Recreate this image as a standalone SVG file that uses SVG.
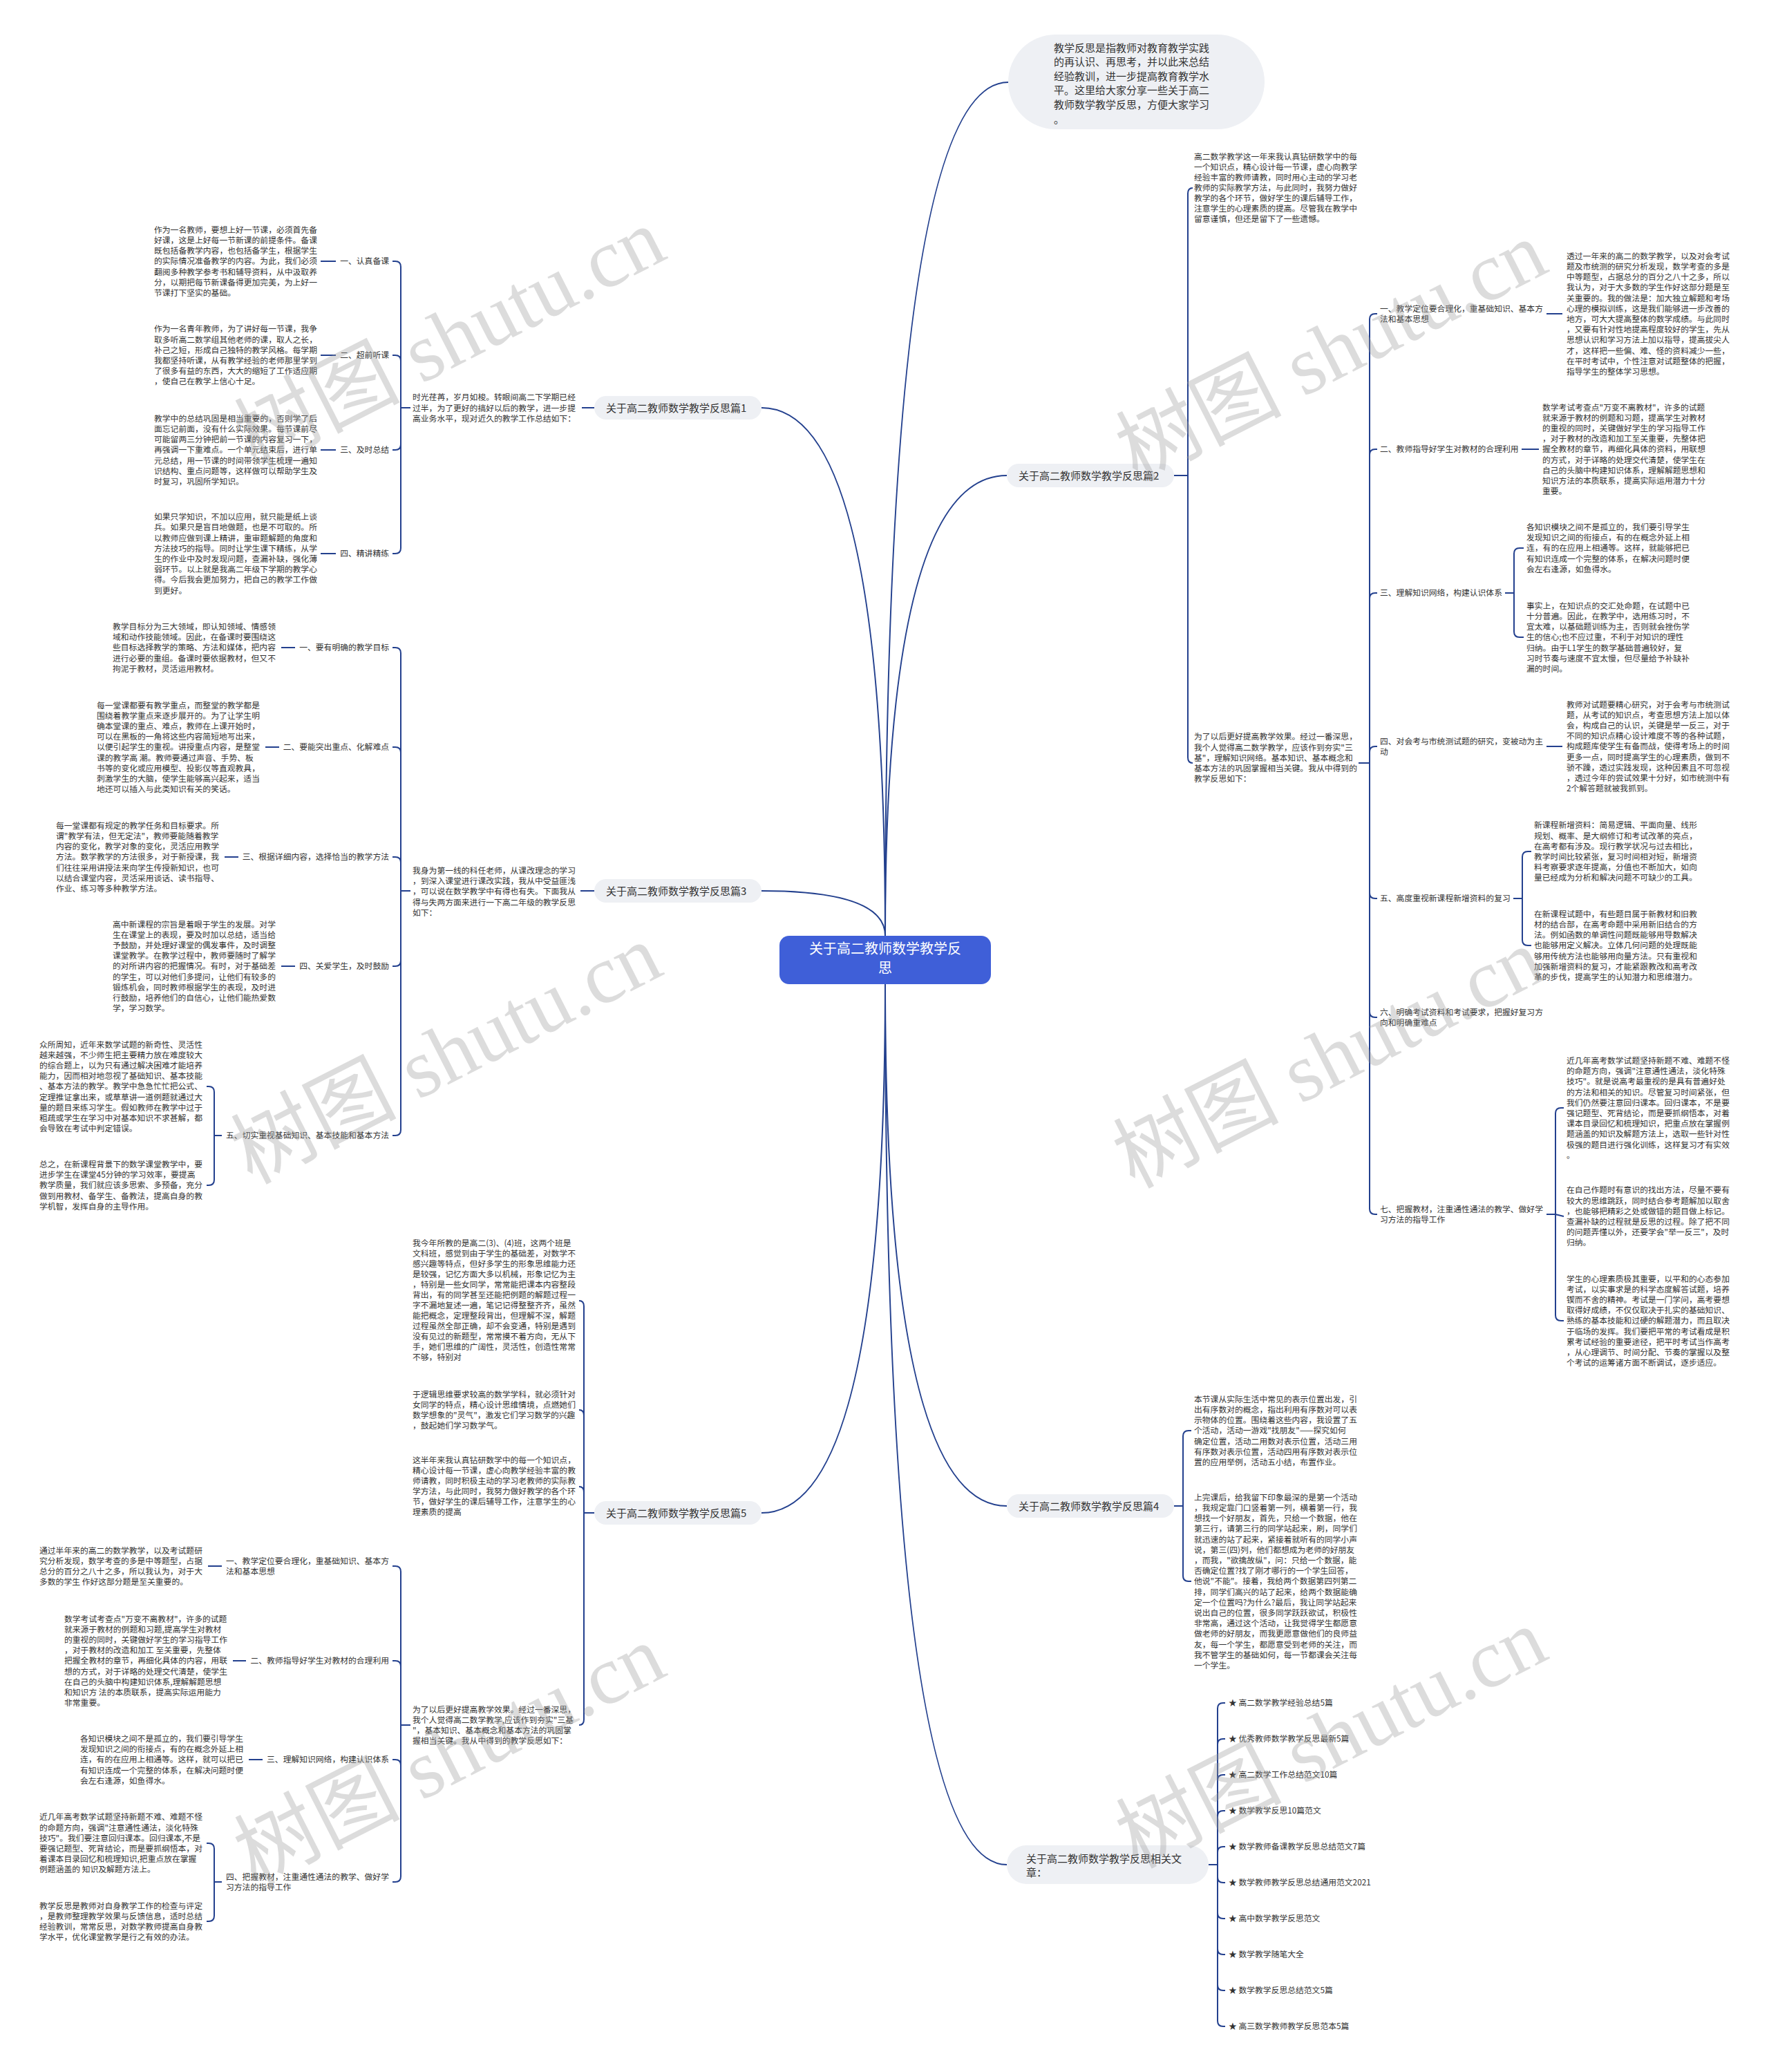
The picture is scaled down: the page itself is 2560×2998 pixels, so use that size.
<svg xmlns="http://www.w3.org/2000/svg" width="2560" height="2998" viewBox="0 0 2560 2998">
<style>
.t{font-family:"Noto Sans CJK SC","Noto Sans",sans-serif;font-size:11.8px;fill:#333}
.pl{fill:#eef0f4}
.pt{font-family:"Noto Sans CJK SC","Noto Sans",sans-serif;font-size:15px;fill:#333}
.c{fill:none;stroke:#23408e;stroke-width:2}
.wm{font-family:"Liberation Serif","Noto Sans CJK SC",serif;font-size:120px;fill:#9a9a9a;fill-opacity:0.35}
</style>
<rect width="2560" height="2998" fill="#fff"/>
<g id="connectors">
<path class="c" d="M1281,1354 Q1281,119 1459,119"/>
<path class="c" d="M1281,1354 Q1281,688 1457,688"/>
<path class="c" d="M1281,1354 Q1281,590 1102,590"/>
<path class="c" d="M1281,1354 Q1281,1289 1102,1289"/>
<path class="c" d="M1281,1424 Q1281,2189 1102,2189"/>
<path class="c" d="M1281,1424 Q1281,2179 1457,2179"/>
<path class="c" d="M1281,1424 Q1281,2698 1457,2698"/>
<path class="c" d="M860,590 H842"/>
<path class="c" d="M594,590 H580 V386 Q580,378 572,378 H568 M594,590 H580 V522 Q580,514 572,514 H568 M594,590 H580 V643 Q580,651 572,651 H568 M594,590 H580 V793 Q580,801 572,801 H568"/>
<path class="c" d="M464,378 H486 M464,514 H486 M464,651 H486 M464,801 H486"/>
<path class="c" d="M860,1289 H840"/>
<path class="c" d="M594,1289 H580 V945 Q580,937 572,937 H568 M594,1289 H580 V1089 Q580,1081 572,1081 H568 M594,1289 H580 V1248 Q580,1240 572,1240 H568 M594,1289 H580 V1390 Q580,1398 572,1398 H568 M594,1289 H580 V1635 Q580,1643 572,1643 H568"/>
<path class="c" d="M407,937 H427 M384,1081 H404 M325,1240 H345 M407,1398 H427"/>
<path class="c" d="M321,1643 H310 V1580 Q310,1572 302,1572 H299 M321,1643 H310 V1707 Q310,1715 302,1715 H299"/>
<path class="c" d="M860,2189 H845 V1890 Q845,1882 838,1882 M860,2189 H845 V2048 Q845,2040 838,2040 M860,2189 H845 V2159 Q845,2151 838,2151 M860,2189 H845 V2488 Q845,2496 838,2496"/>
<path class="c" d="M594,2496 H580 V2274 Q580,2266 572,2266 H568 M594,2496 H580 V2411 Q580,2403 572,2403 H568 M594,2496 H580 V2554 Q580,2546 572,2546 H568 M594,2496 H580 V2715 Q580,2723 572,2723 H568"/>
<path class="c" d="M301,2266 H321 M337,2403 H356 M360,2546 H380"/>
<path class="c" d="M321,2723 H310 V2675 Q310,2667 302,2667 H299 M321,2723 H310 V2772 Q310,2780 302,2780 H299"/>
<path class="c" d="M1699,688 H1719 V280 Q1719,272 1726,272 M1699,688 H1719 V1096 Q1719,1104 1726,1104"/>
<path class="c" d="M1966,1104 H1982 V462 Q1982,454 1990,454 H1993 M1966,1104 H1982 V658 Q1982,650 1990,650 H1993 M1966,1104 H1982 V866 Q1982,858 1990,858 H1993 M1966,1104 H1982 V1088 Q1982,1080 1990,1080 H1993 M1966,1104 H1982 V1292 Q1982,1300 1990,1300 H1993 M1966,1104 H1982 V1464 Q1982,1472 1990,1472 H1993 M1966,1104 H1982 V1749 Q1982,1757 1990,1757 H1993"/>
<path class="c" d="M2238,454 H2261 M2202,650 H2227 M2238,1080 H2261"/>
<path class="c" d="M2178,858 H2191 V801 Q2191,793 2199,793 H2205 M2178,858 H2191 V914 Q2191,922 2199,922 H2205"/>
<path class="c" d="M2190,1300 H2203 V1240 Q2203,1232 2211,1232 H2216 M2190,1300 H2203 V1360 Q2203,1368 2211,1368 H2216"/>
<path class="c" d="M2238,1757 H2251 V1611 Q2251,1603 2259,1603 H2263 M2238,1757 H2251 L2263,1760 M2238,1757 H2251 V1903 Q2251,1911 2259,1911 H2263"/>
<path class="c" d="M1699,2179 H1712 V2078 Q1712,2070 1720,2070 H1724 M1699,2179 H1712 V2280 Q1712,2288 1720,2288 H1724"/>
<path class="c" d="M1749,2698 H1762 V2472 Q1762,2464 1770,2464 H1773 M1749,2698 H1762 V2524 Q1762,2516 1770,2516 H1773 M1749,2698 H1762 V2576 Q1762,2568 1770,2568 H1773 M1749,2698 H1762 V2628 Q1762,2620 1770,2620 H1773 M1749,2698 H1762 V2680 Q1762,2672 1770,2672 H1773 M1749,2698 H1762 V2716 Q1762,2724 1770,2724 H1773 M1749,2698 H1762 V2768 Q1762,2776 1770,2776 H1773 M1749,2698 H1762 V2820 Q1762,2828 1770,2828 H1773 M1749,2698 H1762 V2872 Q1762,2880 1770,2880 H1773 M1749,2698 H1762 V2924 Q1762,2932 1770,2932 H1773"/>
</g>
<g id="center">
<rect x="1128" y="1354" width="306" height="70" rx="14" fill="#3f5fd8"/>
<text x="1281" y="1380" text-anchor="middle" font-family="Noto Sans CJK SC, sans-serif" font-size="20" fill="#fff">关于高二教师数学教学反<tspan x="1281" dy="28">思</tspan></text>
</g>
<g id="intro">
<rect x="1459" y="50" width="371" height="137" rx="68.5" class="pl"/>
<text class="pt" x="1525" y="74.5"><tspan x="1525">教学反思是指教师对教育教学实践</tspan><tspan x="1525" dy="20.6">的再认识、再思考，并以此来总结</tspan><tspan x="1525" dy="20.6">经验教训，进一步提高教育教学水</tspan><tspan x="1525" dy="20.6">平。这里给大家分享一些关于高二</tspan><tspan x="1525" dy="20.6">教师数学教学反思，方便大家学习</tspan><tspan x="1525" dy="20.6">。</tspan></text>
</g>
<g id="p1">
<rect x="860" y="573" width="242" height="34" rx="17" class="pl"/>
<text class="pt" x="877" y="595.5">关于高二教师数学教学反思篇1</text>
<text class="t" x="597" y="579.3"><tspan x="597">时光荏苒，岁月如梭。转眼间高二下学期已经</tspan><tspan x="597" dy="15.4">过半，为了更好的搞好以后的教学，进一步提</tspan><tspan x="597" dy="15.4">高业务水平，现对近久的教学工作总结如下：</tspan></text>
<text class="t" x="563" y="382.3" text-anchor="end">一、认真备课</text>
<text class="t" x="563" y="518.3" text-anchor="end">二、超前听课</text>
<text class="t" x="563" y="655.3" text-anchor="end">三、及时总结</text>
<text class="t" x="563" y="805.3" text-anchor="end">四、精讲精练</text>
<text class="t" x="223" y="336.7"><tspan x="223">作为一名教师，要想上好一节课，必须首先备</tspan><tspan x="223" dy="15.2">好课，这是上好每一节新课的前提条件。备课</tspan><tspan x="223" dy="15.2">既包括备教学内容，也包括备学生，根据学生</tspan><tspan x="223" dy="15.2">的实际情况准备教学的内容。为此，我们必须</tspan><tspan x="223" dy="15.2">翻阅多种教学参考书和辅导资料，从中汲取养</tspan><tspan x="223" dy="15.2">分，以期把每节新课备得更加完美，为上好一</tspan><tspan x="223" dy="15.2">节课打下坚实的基础。</tspan></text>
<text class="t" x="223" y="480.3"><tspan x="223">作为一名青年教师，为了讲好每一节课，我争</tspan><tspan x="223" dy="15.2">取多听高二数学组其他老师的课，取人之长，</tspan><tspan x="223" dy="15.2">补己之短，形成自己独特的教学风格。每学期</tspan><tspan x="223" dy="15.2">我都坚持听课，从有教学经验的老师那里学到</tspan><tspan x="223" dy="15.2">了很多有益的东西，大大的缩短了工作适应期</tspan><tspan x="223" dy="15.2">，使自己在教学上信心十足。</tspan></text>
<text class="t" x="223" y="609.7"><tspan x="223">教学中的总结巩固是相当重要的，否则学了后</tspan><tspan x="223" dy="15.2">面忘记前面，没有什么实际效果。每节课前尽</tspan><tspan x="223" dy="15.2">可能留两三分钟把前一节课的内容复习一下，</tspan><tspan x="223" dy="15.2">再强调一下重难点。一个单元结束后，进行单</tspan><tspan x="223" dy="15.2">元总结，用一节课的时间带领学生梳理一遍知</tspan><tspan x="223" dy="15.2">识结构、重点问题等，这样做可以帮助学生及</tspan><tspan x="223" dy="15.2">时复习，巩固所学知识。</tspan></text>
<text class="t" x="223" y="752.1"><tspan x="223">如果只学知识，不加以应用，就只能是纸上谈</tspan><tspan x="223" dy="15.2">兵。如果只是盲目地做题，也是不可取的。所</tspan><tspan x="223" dy="15.2">以教师应做到课上精讲，重审题解题的角度和</tspan><tspan x="223" dy="15.2">方法技巧的指导。同时让学生课下精练，从学</tspan><tspan x="223" dy="15.2">生的作业中及时发现问题，查漏补缺，强化薄</tspan><tspan x="223" dy="15.2">弱环节。以上就是我高二年级下学期的教学心</tspan><tspan x="223" dy="15.2">得。今后我会更加努力，把自己的教学工作做</tspan><tspan x="223" dy="15.2">到更好。</tspan></text>
</g>
<g id="p3">
<rect x="860" y="1272" width="242" height="34" rx="17" class="pl"/>
<text class="pt" x="877" y="1294.5">关于高二教师数学教学反思篇3</text>
<text class="t" x="597" y="1263.9"><tspan x="597">我身为第一线的科任老师，从课改理念的学习</tspan><tspan x="597" dy="15.2">，到深入课堂进行课改实践，我从中受益匪浅</tspan><tspan x="597" dy="15.2">，可以说在数学教学中有得也有失。下面我从</tspan><tspan x="597" dy="15.2">得与失两方面来进行一下高二年级的教学反思</tspan><tspan x="597" dy="15.2">如下：</tspan></text>
<text class="t" x="563" y="941.3" text-anchor="end">一、要有明确的教学目标</text>
<text class="t" x="563" y="1085.3" text-anchor="end">二、要能突出重点、化解难点</text>
<text class="t" x="563" y="1244.3" text-anchor="end">三、根据详细内容，选择恰当的教学方法</text>
<text class="t" x="563" y="1402.3" text-anchor="end">四、关爱学生，及时鼓励</text>
<text class="t" x="563" y="1647.3" text-anchor="end">五、切实重视基础知识、基本技能和基本方法</text>
<text class="t" x="163" y="910.9"><tspan x="163">教学目标分为三大领域，即认知领域、情感领</tspan><tspan x="163" dy="15.2">域和动作技能领域。因此，在备课时要围绕这</tspan><tspan x="163" dy="15.2">些目标选择教学的策略、方法和媒体，把内容</tspan><tspan x="163" dy="15.2">进行必要的重组。备课时要依据教材，但又不</tspan><tspan x="163" dy="15.2">拘泥于教材，灵活运用教材。</tspan></text>
<text class="t" x="140" y="1024.5"><tspan x="140">每一堂课都要有教学重点，而整堂的教学都是</tspan><tspan x="140" dy="15.2">围绕着教学重点来逐步展开的。为了让学生明</tspan><tspan x="140" dy="15.2">确本堂课的重点、难点，教师在上课开始时，</tspan><tspan x="140" dy="15.2">可以在黑板的一角将这些内容简短地写出来，</tspan><tspan x="140" dy="15.2">以便引起学生的重视。讲授重点内容，是整堂</tspan><tspan x="140" dy="15.2">课的教学高 潮。教师要通过声音、手势、板</tspan><tspan x="140" dy="15.2">书等的变化或应用模型、投影仪等直观教具，</tspan><tspan x="140" dy="15.2">刺激学生的大脑，使学生能够高兴起来，适当</tspan><tspan x="140" dy="15.2">地还可以插入与此类知识有关的笑话。</tspan></text>
<text class="t" x="81" y="1198.7"><tspan x="81">每一堂课都有规定的教学任务和目标要求。所</tspan><tspan x="81" dy="15.2">谓"教学有法，但无定法"，教师要能随着教学</tspan><tspan x="81" dy="15.2">内容的变化，教学对象的变化，灵活应用教学</tspan><tspan x="81" dy="15.2">方法。数学教学的方法很多，对于新授课，我</tspan><tspan x="81" dy="15.2">们往往采用讲授法来向学生传授新知识，也可</tspan><tspan x="81" dy="15.2">以结合课堂内容，灵活采用谈话、读书指导、</tspan><tspan x="81" dy="15.2">作业、练习等多种教学方法。</tspan></text>
<text class="t" x="163" y="1341.5"><tspan x="163">高中新课程的宗旨是着眼于学生的发展。对学</tspan><tspan x="163" dy="15.2">生在课堂上的表现，要及时加以总结，适当给</tspan><tspan x="163" dy="15.2">予鼓励，并处理好课堂的偶发事件，及时调整</tspan><tspan x="163" dy="15.2">课堂教学。在教学过程中，教师要随时了解学</tspan><tspan x="163" dy="15.2">的对所讲内容的把握情况。有时，对于基础差</tspan><tspan x="163" dy="15.2">的学生，可以对他们多提问，让他们有较多的</tspan><tspan x="163" dy="15.2">锻炼机会，同时教师根据学生的表现，及时进</tspan><tspan x="163" dy="15.2">行鼓励，培养他们的自信心，让他们能热爱数</tspan><tspan x="163" dy="15.2">学，学习数学。</tspan></text>
<text class="t" x="57" y="1515.5"><tspan x="57">众所周知，近年来数学试题的新奇性、灵活性</tspan><tspan x="57" dy="15.2">越来越强，不少师生把主要精力放在难度较大</tspan><tspan x="57" dy="15.2">的综合题上，以为只有通过解决困难才能培养</tspan><tspan x="57" dy="15.2">能力，因而相对地忽视了基础知识、基本技能</tspan><tspan x="57" dy="15.2">、基本方法的教学。教学中急急忙忙把公式、</tspan><tspan x="57" dy="15.2">定理推证拿出来，或草草讲一道例题就通过大</tspan><tspan x="57" dy="15.2">量的题目来练习学生。假如教师在教学中过于</tspan><tspan x="57" dy="15.2">粗疏或学生在学习中对基本知识不求甚解，都</tspan><tspan x="57" dy="15.2">会导致在考试中判定错误。</tspan></text>
<text class="t" x="57" y="1688.9"><tspan x="57">总之，在新课程背景下的数学课堂教学中，要</tspan><tspan x="57" dy="15.2">进步学生在课堂45分钟的学习效率，要提高</tspan><tspan x="57" dy="15.2">教学质量，我们就应该多思索、多预备，充分</tspan><tspan x="57" dy="15.2">做到用教材、备学生、备教法，提高自身的教</tspan><tspan x="57" dy="15.2">学机智，发挥自身的主导作用。</tspan></text>
</g>
<g id="p5">
<rect x="860" y="2172" width="242" height="34" rx="17" class="pl"/>
<text class="pt" x="877" y="2194.5">关于高二教师数学教学反思篇5</text>
<text class="t" x="597" y="1802.7"><tspan x="597">我今年所教的是高二(3)、(4)班，这两个班是</tspan><tspan x="597" dy="15">文科班，感觉到由于学生的基础差，对数学不</tspan><tspan x="597" dy="15">感兴趣等特点，但好多学生的形象思维能力还</tspan><tspan x="597" dy="15">是较强，记忆方面大多以机械，形象记忆为主</tspan><tspan x="597" dy="15">，特别是一些女同学，常常能把课本内容整段</tspan><tspan x="597" dy="15">背出，有的同学甚至还能把例题的解题过程一</tspan><tspan x="597" dy="15">字不漏地复述一遍，笔记记得整整齐齐，虽然</tspan><tspan x="597" dy="15">能把概念，定理整段背出，但理解不深，解题</tspan><tspan x="597" dy="15">过程虽然全部正确，却不会变通，特别是遇到</tspan><tspan x="597" dy="15">没有见过的新题型，常常摸不着方向，无从下</tspan><tspan x="597" dy="15">手，她们思维的广阔性，灵活性，创造性常常</tspan><tspan x="597" dy="15">不够，特别对</tspan></text>
<text class="t" x="597" y="2021.5"><tspan x="597">于逻辑思维要求较高的数学学科，就必须针对</tspan><tspan x="597" dy="15">女同学的特点，精心设计思维情境，点燃她们</tspan><tspan x="597" dy="15">数学想象的"灵气"，激发它们学习数学的兴趣</tspan><tspan x="597" dy="15">，鼓起她们学习数学气。</tspan></text>
<text class="t" x="597" y="2117.3"><tspan x="597">这半年来我认真钻研数学中的每一个知识点，</tspan><tspan x="597" dy="15">精心设计每一节课，虚心向教学经验丰富的教</tspan><tspan x="597" dy="15">师请教，同时积极主动的学习老教师的实际教</tspan><tspan x="597" dy="15">学方法，与此同时，我努力做好教学的各个环</tspan><tspan x="597" dy="15">节，做好学生的课后辅导工作，注意学生的心</tspan><tspan x="597" dy="15">理素质的提高</tspan></text>
<text class="t" x="597" y="2477.5"><tspan x="597">为了以后更好提高教学效果。经过一番深思，</tspan><tspan x="597" dy="15">我个人觉得高二数学教学,应该作到夯实"三基</tspan><tspan x="597" dy="15">"，基本知识、基本概念和基本方法的巩固掌</tspan><tspan x="597" dy="15">握相当关键。我从中得到的教学反思如下：</tspan></text>
<text class="t" x="327" y="2262.7"><tspan x="327">一、教学定位要合理化，重基础知识、基本方</tspan><tspan x="327" dy="15.2">法和基本思想</tspan></text>
<text class="t" x="563" y="2407.3" text-anchor="end">二、教师指导好学生对教材的合理利用</text>
<text class="t" x="563" y="2550.3" text-anchor="end">三、理解知识网络，构建认识体系</text>
<text class="t" x="327" y="2719.7"><tspan x="327">四、把握教材，注重通性通法的教学、做好学</tspan><tspan x="327" dy="15.2">习方法的指导工作</tspan></text>
<text class="t" x="57" y="2247.5"><tspan x="57">通过半年来的高二的数学教学，以及考试题研</tspan><tspan x="57" dy="15.2">究分析发现，数学考查的多是中等题型，占据</tspan><tspan x="57" dy="15.2">总分的百分之八十之多，所以我认为，对于大</tspan><tspan x="57" dy="15.2">多数的学生 作好这部分题是至关重要的。</tspan></text>
<text class="t" x="93" y="2346.5"><tspan x="93">数学考试考查点"万变不离教材"，许多的试题</tspan><tspan x="93" dy="15.2">就来源于教材的例题和习题,提高学生对教材</tspan><tspan x="93" dy="15.2">的重视的同时，关键做好学生的学习指导工作</tspan><tspan x="93" dy="15.2">，对于教材的改造和加工 至关重要，先整体</tspan><tspan x="93" dy="15.2">把握全教材的章节，再细化具体的内容，用联</tspan><tspan x="93" dy="15.2">想的方式，对于详略的处理交代清楚，使学生</tspan><tspan x="93" dy="15.2">在自己的头脑中构建知识体系,理解解题思想</tspan><tspan x="93" dy="15.2">和知识方 法的本质联系，提高实际运用能力</tspan><tspan x="93" dy="15.2">非常重要。</tspan></text>
<text class="t" x="116" y="2519.9"><tspan x="116">各知识模块之间不是孤立的，我们要引导学生</tspan><tspan x="116" dy="15.2">发现知识之间的衔接点，有的在概念外延上相</tspan><tspan x="116" dy="15.2">连，有的在应用上相通等。这样，就可以把已</tspan><tspan x="116" dy="15.2">有知识连成一个完整的体系，在解决问题时便</tspan><tspan x="116" dy="15.2">会左右逢源，如鱼得水。</tspan></text>
<text class="t" x="57" y="2633.3"><tspan x="57">近几年高考数学试题坚持新题不难、难题不怪</tspan><tspan x="57" dy="15.2">的命题方向，强调"注意通性通法，淡化特殊</tspan><tspan x="57" dy="15.2">技巧"。我们要注意回归课本。回归课本,不是</tspan><tspan x="57" dy="15.2">要强记题型、死背结论，而是要抓纲悟本，对</tspan><tspan x="57" dy="15.2">着课本目录回忆和梳理知识,把重点放在掌握</tspan><tspan x="57" dy="15.2">例题涵盖的 知识及解题方法上。</tspan></text>
<text class="t" x="57" y="2761.5"><tspan x="57">教学反思是教师对自身教学工作的检查与评定</tspan><tspan x="57" dy="15.2">，是教师整理教学效果与反馈信息，适时总结</tspan><tspan x="57" dy="15.2">经验教训，常常反思，对数学教师提高自身教</tspan><tspan x="57" dy="15.2">学水平，优化课堂教学是行之有效的办法。</tspan></text>
</g>
<g id="p2">
<rect x="1457" y="671" width="242" height="34" rx="17" class="pl"/>
<text class="pt" x="1474" y="693.5">关于高二教师数学教学反思篇2</text>
<text class="t" x="1728" y="231.3"><tspan x="1728">高二数学教学这一年来我认真钻研数学中的每</tspan><tspan x="1728" dy="15">一个知识点，精心设计每一节课，虚心向教学</tspan><tspan x="1728" dy="15">经验丰富的教师请教，同时用心主动的学习老</tspan><tspan x="1728" dy="15">教师的实际教学方法，与此同时，我努力做好</tspan><tspan x="1728" dy="15">教学的各个环节，做好学生的课后辅导工作，</tspan><tspan x="1728" dy="15">注意学生的心理素质的提高。尽管我在教学中</tspan><tspan x="1728" dy="15">留意谨慎，但还是留下了一些遗憾。</tspan></text>
<text class="t" x="1728" y="1070.3"><tspan x="1728">为了以后更好提高教学效果。经过一番深思，</tspan><tspan x="1728" dy="15.2">我个人觉得高二数学教学，应该作到夯实"三</tspan><tspan x="1728" dy="15.2">基"，理解知识网络。基本知识、基本概念和</tspan><tspan x="1728" dy="15.2">基本方法的巩固掌握相当关键。我从中得到的</tspan><tspan x="1728" dy="15.2">教学反思如下：</tspan></text>
<text class="t" x="1997" y="450.7"><tspan x="1997">一、教学定位要合理化，重基础知识、基本方</tspan><tspan x="1997" dy="15.2">法和基本思想</tspan></text>
<text class="t" x="1997" y="654.3">二、教师指导好学生对教材的合理利用</text>
<text class="t" x="1997" y="862.3">三、理解知识网络，构建认识体系</text>
<text class="t" x="1997" y="1076.7"><tspan x="1997">四、对会考与市统测试题的研究，变被动为主</tspan><tspan x="1997" dy="15.2">动</tspan></text>
<text class="t" x="1997" y="1304.3">五、高度重视新课程新增资料的复习</text>
<text class="t" x="1997" y="1468.7"><tspan x="1997">六、明确考试资料和考试要求，把握好复习方</tspan><tspan x="1997" dy="15.2">向和明确重难点</tspan></text>
<text class="t" x="1997" y="1753.7"><tspan x="1997">七、把握教材，注重通性通法的教学、做好学</tspan><tspan x="1997" dy="15.2">习方法的指导工作</tspan></text>
<text class="t" x="2267" y="374.7"><tspan x="2267">透过一年来的高二的数学教学，以及对会考试</tspan><tspan x="2267" dy="15.2">题及市统测的研究分析发现，数学考查的多是</tspan><tspan x="2267" dy="15.2">中等题型，占据总分的百分之八十之多，所以</tspan><tspan x="2267" dy="15.2">我认为，对于大多数的学生作好这部分题是至</tspan><tspan x="2267" dy="15.2">关重要的。我的做法是：加大独立解题和考场</tspan><tspan x="2267" dy="15.2">心理的模拟训练，这是我们能够进一步改善的</tspan><tspan x="2267" dy="15.2">地方，可大大提高整体的数学成绩。与此同时</tspan><tspan x="2267" dy="15.2">，又要有针对性地提高程度较好的学生，先从</tspan><tspan x="2267" dy="15.2">思想认识和学习方法上加以指导，提高拔尖人</tspan><tspan x="2267" dy="15.2">才，这样把一些偏、难、怪的资料减少一些，</tspan><tspan x="2267" dy="15.2">在平时考试中，个性注意对试题整体的把握，</tspan><tspan x="2267" dy="15.2">指导学生的整体学习思想。</tspan></text>
<text class="t" x="2232" y="593.5"><tspan x="2232">数学考试考查点"万变不离教材"，许多的试题</tspan><tspan x="2232" dy="15.2">就来源于教材的例题和习题，提高学生对教材</tspan><tspan x="2232" dy="15.2">的重视的同时，关键做好学生的学习指导工作</tspan><tspan x="2232" dy="15.2">，对于教材的改造和加工至关重要，先整体把</tspan><tspan x="2232" dy="15.2">握全教材的章节，再细化具体的资料，用联想</tspan><tspan x="2232" dy="15.2">的方式，对于详略的处理交代清楚，使学生在</tspan><tspan x="2232" dy="15.2">自己的头脑中构建知识体系，理解解题思想和</tspan><tspan x="2232" dy="15.2">知识方法的本质联系，提高实际运用潜力十分</tspan><tspan x="2232" dy="15.2">重要。</tspan></text>
<text class="t" x="2209" y="766.9"><tspan x="2209">各知识模块之间不是孤立的，我们要引导学生</tspan><tspan x="2209" dy="15.2">发现知识之间的衔接点，有的在概念外延上相</tspan><tspan x="2209" dy="15.2">连，有的在应用上相通等。这样，就能够把已</tspan><tspan x="2209" dy="15.2">有知识连成一个完整的体系，在解决问题时便</tspan><tspan x="2209" dy="15.2">会左右逢源，如鱼得水。</tspan></text>
<text class="t" x="2209" y="880.7"><tspan x="2209">事实上，在知识点的交汇处命题，在试题中已</tspan><tspan x="2209" dy="15.2">十分普遍。因此，在教学中，选用练习时，不</tspan><tspan x="2209" dy="15.2">宜太难，以基础题训练为主，否则就会挫伤学</tspan><tspan x="2209" dy="15.2">生的信心;也不应过重，不利于对知识的理性</tspan><tspan x="2209" dy="15.2">归纳。由于L1学生的数学基础普遍较好，复</tspan><tspan x="2209" dy="15.2">习时节奏与速度不宜太慢，但尽量给予补缺补</tspan><tspan x="2209" dy="15.2">漏的时间。</tspan></text>
<text class="t" x="2267" y="1023.5"><tspan x="2267">教师对试题要精心研究，对于会考与市统测试</tspan><tspan x="2267" dy="15.2">题，从考试的知识点，考查思想方法上加以体</tspan><tspan x="2267" dy="15.2">会，构成自己的认识，关键是举一反三，对于</tspan><tspan x="2267" dy="15.2">不同的知识点精心设计难度不等的各种试题，</tspan><tspan x="2267" dy="15.2">构成题库使学生有备而战，使得考场上的时间</tspan><tspan x="2267" dy="15.2">更多一点，同时提高学生的心理素质，做到不</tspan><tspan x="2267" dy="15.2">骄不躁，透过实践发现，这种因素且不可忽视</tspan><tspan x="2267" dy="15.2">，透过今年的尝试效果十分好，如市统测中有</tspan><tspan x="2267" dy="15.2">2个解答题就被我抓到。</tspan></text>
<text class="t" x="2220" y="1198.3"><tspan x="2220">新课程新增资料：简易逻辑、平面向量、线形</tspan><tspan x="2220" dy="15.2">规划、概率、是大纲修订和考试改革的亮点，</tspan><tspan x="2220" dy="15.2">在高考都有涉及。现行教学状况与过去相比，</tspan><tspan x="2220" dy="15.2">教学时间比较紧张，复习时间相对短，新增资</tspan><tspan x="2220" dy="15.2">料考察要求逐年提高，分值也不断加大，如向</tspan><tspan x="2220" dy="15.2">量已经成为分析和解决问题不可缺少的工具。</tspan></text>
<text class="t" x="2220" y="1326.7"><tspan x="2220">在新课程试题中，有些题目属于新教材和旧教</tspan><tspan x="2220" dy="15.2">材的结合部，在高考命题中采用新旧结合的方</tspan><tspan x="2220" dy="15.2">法。例如函数的单调性问题既能够用导数解决</tspan><tspan x="2220" dy="15.2">也能够用定义解决。立体几何问题的处理既能</tspan><tspan x="2220" dy="15.2">够用传统方法也能够用向量方法。只有重视和</tspan><tspan x="2220" dy="15.2">加强新增资料的复习，才能紧跟教改和高考改</tspan><tspan x="2220" dy="15.2">革的步伐，提高学生的认知潜力和思维潜力。</tspan></text>
<text class="t" x="2267" y="1538.9"><tspan x="2267">近几年高考数学试题坚持新题不难、难题不怪</tspan><tspan x="2267" dy="15.2">的命题方向，强调"注意通性通法，淡化特殊</tspan><tspan x="2267" dy="15.2">技巧"。就是说高考最重视的是具有普遍好处</tspan><tspan x="2267" dy="15.2">的方法和相关的知识。尽管复习时间紧张，但</tspan><tspan x="2267" dy="15.2">我们仍然要注意回归课本。回归课本，不是要</tspan><tspan x="2267" dy="15.2">强记题型、死背结论，而是要抓纲悟本，对着</tspan><tspan x="2267" dy="15.2">课本目录回忆和梳理知识，把重点放在掌握例</tspan><tspan x="2267" dy="15.2">题涵盖的知识及解题方法上，选取一些针对性</tspan><tspan x="2267" dy="15.2">极强的题目进行强化训练，这样复习才有实效</tspan><tspan x="2267" dy="15.2">。</tspan></text>
<text class="t" x="2267" y="1726.3"><tspan x="2267">在自己作题时有意识的找出方法，尽量不要有</tspan><tspan x="2267" dy="15.2">较大的思维跳跃，同时结合参考题解加以取舍</tspan><tspan x="2267" dy="15.2">，也能够把精彩之处或做错的题目做上标记。</tspan><tspan x="2267" dy="15.2">查漏补缺的过程就是反思的过程。除了把不同</tspan><tspan x="2267" dy="15.2">的问题弄懂以外，还要学会"举一反三"，及时</tspan><tspan x="2267" dy="15.2">归纳。</tspan></text>
<text class="t" x="2267" y="1854.5"><tspan x="2267">学生的心理素质极其重要，以平和的心态参加</tspan><tspan x="2267" dy="15.2">考试，以实事求是的科学态度解答试题，培养</tspan><tspan x="2267" dy="15.2">锲而不舍的精神。考试是一门学问，高考要想</tspan><tspan x="2267" dy="15.2">取得好成绩，不仅仅取决于扎实的基础知识、</tspan><tspan x="2267" dy="15.2">熟练的基本技能和过硬的解题潜力，而且取决</tspan><tspan x="2267" dy="15.2">于临场的发挥。我们要把平常的考试看成是积</tspan><tspan x="2267" dy="15.2">累考试经验的重要途径，把平时考试当作高考</tspan><tspan x="2267" dy="15.2">，从心理调节、时间分配、节奏的掌握以及整</tspan><tspan x="2267" dy="15.2">个考试的运筹诸方面不断调试，逐步适应。</tspan></text>
</g>
<g id="p4">
<rect x="1457" y="2162" width="242" height="34" rx="17" class="pl"/>
<text class="pt" x="1474" y="2184.5">关于高二教师数学教学反思篇4</text>
<text class="t" x="1728" y="2028.7"><tspan x="1728">本节课从实际生活中常见的表示位置出发，引</tspan><tspan x="1728" dy="15.2">出有序数对的概念，指出利用有序数对可以表</tspan><tspan x="1728" dy="15.2">示物体的位置。围绕着这些内容，我设置了五</tspan><tspan x="1728" dy="15.2">个活动，活动一游戏"找朋友"——探究如何</tspan><tspan x="1728" dy="15.2">确定位置，活动二用数对表示位置，活动三用</tspan><tspan x="1728" dy="15.2">有序数对表示位置，活动四用有序数对表示位</tspan><tspan x="1728" dy="15.2">置的应用举例，活动五小结，布置作业。</tspan></text>
<text class="t" x="1728" y="2170.7"><tspan x="1728">上完课后，给我留下印象最深的是第一个活动</tspan><tspan x="1728" dy="15.2">，我规定靠门口竖着第一列，横着第一行，我</tspan><tspan x="1728" dy="15.2">想找一个好朋友，首先，只给一个数据，他在</tspan><tspan x="1728" dy="15.2">第三行，请第三行的同学站起来，刷，同学们</tspan><tspan x="1728" dy="15.2">就迅速的站了起来，紧接着就听有的同学小声</tspan><tspan x="1728" dy="15.2">说，第三(四)列，他们都想成为老师的好朋友</tspan><tspan x="1728" dy="15.2">，而我，"欲擒故纵"，问：只给一个数据，能</tspan><tspan x="1728" dy="15.2">否确定位置?找了刚才哪行的一个学生回答，</tspan><tspan x="1728" dy="15.2">他说"不能"。接着，我给两个数据第四列第二</tspan><tspan x="1728" dy="15.2">排，同学们高兴的站了起来，给两个数据能确</tspan><tspan x="1728" dy="15.2">定一个位置吗?为什么?最后，我让同学站起来</tspan><tspan x="1728" dy="15.2">说出自己的位置，很多同学跃跃欲试，积极性</tspan><tspan x="1728" dy="15.2">非常高，通过这个活动，让我觉得学生都愿意</tspan><tspan x="1728" dy="15.2">做老师的好朋友，而我更愿意做他们的良师益</tspan><tspan x="1728" dy="15.2">友，每一个学生，都愿意受到老师的关注，而</tspan><tspan x="1728" dy="15.2">我不管学生的基础如何，每一节都课会关注每</tspan><tspan x="1728" dy="15.2">一个学生。</tspan></text>
</g>
<g id="related">
<rect x="1457" y="2670" width="292" height="56" rx="28" class="pl"/>
<text class="pt" x="1485" y="2694.5"><tspan x="1485">关于高二教师数学教学反思相关文</tspan><tspan x="1485" dy="20">章：</tspan></text>
<text class="t" x="1778" y="2468.3">★ 高二数学教学经验总结5篇</text>
<text class="t" x="1778" y="2520.3">★ 优秀教师数学教学反思最新5篇</text>
<text class="t" x="1778" y="2572.3">★ 高二数学工作总结范文10篇</text>
<text class="t" x="1778" y="2624.3">★ 数学教学反思10篇范文</text>
<text class="t" x="1778" y="2676.3">★ 数学教师备课教学反思总结范文7篇</text>
<text class="t" x="1778" y="2728.3">★ 数学教师教学反思总结通用范文2021</text>
<text class="t" x="1778" y="2780.3">★ 高中数学教学反思范文</text>
<text class="t" x="1778" y="2832.3">★ 数学教学随笔大全</text>
<text class="t" x="1778" y="2884.3">★ 数学教学反思总结范文5篇</text>
<text class="t" x="1778" y="2936.3">★ 高三数学教师教学反思范本5篇</text>
</g>
<g id="watermark">
<text class="wm" x="650" y="530" text-anchor="middle" transform="rotate(-27 650 488)">树图 shutu.cn</text>
<text class="wm" x="1926" y="549" text-anchor="middle" transform="rotate(-27 1926 507)">树图 shutu.cn</text>
<text class="wm" x="645" y="1566" text-anchor="middle" transform="rotate(-27 645 1524)">树图 shutu.cn</text>
<text class="wm" x="1922" y="1572" text-anchor="middle" transform="rotate(-27 1922 1530)">树图 shutu.cn</text>
<text class="wm" x="650" y="2580" text-anchor="middle" transform="rotate(-27 650 2538)">树图 shutu.cn</text>
<text class="wm" x="1926" y="2556" text-anchor="middle" transform="rotate(-27 1926 2514)">树图 shutu.cn</text>
</g>
</svg>
